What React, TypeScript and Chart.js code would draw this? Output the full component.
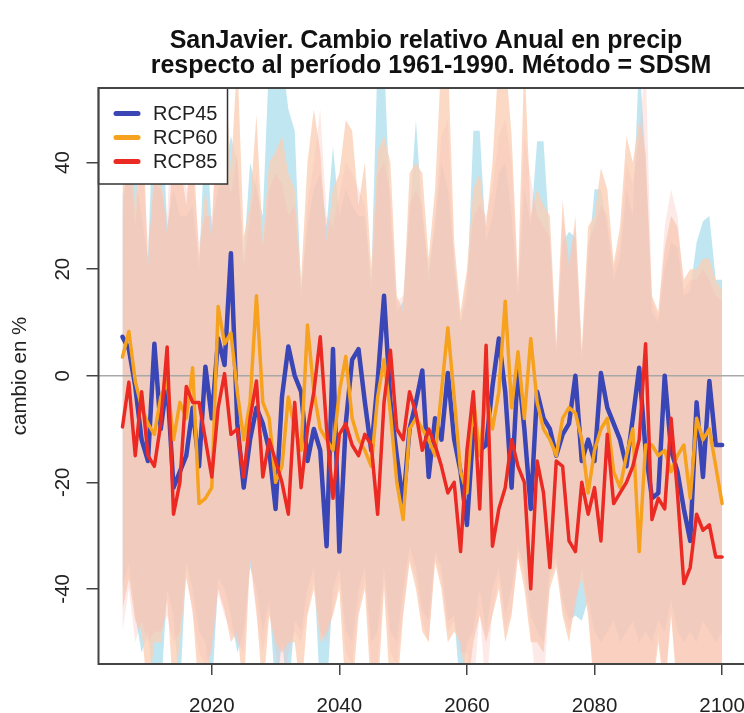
import React, { useEffect, useRef } from "react";
import { Chart, registerables } from "chart.js";

Chart.register(...registerables);

const TITLE_LINES = [
  "SanJavier. Cambio relativo Anual en precip",
  "respecto al período 1961-1990. Método = SDSM",
];
const Y_TITLE = "cambio en %";
const SERIES_NAMES = ["RCP45", "RCP60", "RCP85"];
const X_TICKS = [2020, 2040, 2060, 2080, 2100];
const Y_TICKS = [-40, -20, 0, 20, 40];

const YEARS = [
  2006, 2007, 2008, 2009, 2010, 2011, 2012, 2013, 2014, 2015, 2016, 2017, 2018, 2019, 2020,
  2021, 2022, 2023, 2024, 2025, 2026, 2027, 2028, 2029, 2030, 2031, 2032, 2033, 2034, 2035,
  2036, 2037, 2038, 2039, 2040, 2041, 2042, 2043, 2044, 2045, 2046, 2047, 2048, 2049, 2050,
  2051, 2052, 2053, 2054, 2055, 2056, 2057, 2058, 2059, 2060, 2061, 2062, 2063, 2064, 2065,
  2066, 2067, 2068, 2069, 2070, 2071, 2072, 2073, 2074, 2075, 2076, 2077, 2078, 2079, 2080,
  2081, 2082, 2083, 2084, 2085, 2086, 2087, 2088, 2089, 2090, 2091, 2092, 2093, 2094, 2095,
  2096, 2097, 2098, 2099, 2100,
];

const RCP45 = [
  7.3, 5, -2, -12, -16, 6, -10, -1, -21, -18, -15, -6, -17, 1.7, -8,
  7, 2, 23, -9, -21, -12, -6, -9, -14, -25, -4, 5.5, 0, -3, -16,
  -10, -14, -32, 5, -33, -9, 3, 5, -5, -14, -1, 15, -5, -15, -24,
  -10, -5, 1, -19, -8, -12, 0.5, -12, -18, -28, -10, -14, -13, -2, 7,
  -3, -21, 2, -10, -25, -3, -8, -10, -15, -11, -9, 0, -16, -12, -16,
  0.5, -6, -9, -12, -17, -8, 1.5, -14, -23, -22, 0, -14, -18, -25, -31,
  -5, -19, -1, -13, -13,
];

const RCP60 = [
  3.5, 8.3, -1, -6, -9, -11, -4, -1, -12, -5, -8, 1.5, -24, -23, -21,
  13, 6, 8, -3, -12, -5, 15, -5, -8, -20, -17, -4, -10, -14, 9.5,
  -3, -10, -12, -14, -3, 3.6, -8, -12, -14, -17, -4, 3, -7, -20, -27,
  -10, -8, -10, -12, -15, -3, 9, -4, -18, -22, -4, -15, -3, -10, -3,
  14, -6, 4.5, -8, 7, -5, -10, -12, -15, -8, -6, -7, -12, -22, -14,
  -10, -8, -18, -21, -15, -10, -33, -13, -13, -15, -14, -18, -15, -13, -23,
  -8, -12, -10, -17, -24,
];

const RCP85 = [
  -9.6, -1.2, -15, -3, -15, -17, -9, 5.4, -26, -20, -2, -5, -5, -12, -19,
  -6, 0.4, -11, -10, -19, -8, -1, -19, -12, -16, -20, -26, -5, -21, -10,
  -3, 7.3, -10, -23, -11, -9, -13, -15, -11, -13, -26, -5, 4.8, -10, -12,
  -3, -7, -14, -10, -13, -17, -22, -20, -33, -14, -3, -25, 5.7, -32, -25,
  -21, -12, -17, -20, -40, -16, -22, -36, -16, -17, -31, -33, -20, -26, -21,
  -31, -11, -24, -22, -20, -17, -12, 6, -27, -23, -25, -8, -22, -39, -36,
  -26, -29, -28, -34, -34,
];

const RCP45_HIGH = [
  34, 38, 38, 30, 22, 55, 55, 28, 35, 30, 30, 32, 20, 48, 28,
  35, 38, 45, 40, 22, 40, 35, 30, 60, 60, 60, 50, 46, 16, 28,
  35, 38, 28, 43, 30, 35, 32, 30, 30, 18, 60, 60, 30, 12, 14,
  30, 48, 30, 20, 28, 40, 35, 22, 10, 15, 46, 46, 25, 30, 38,
  40, 30, 15, 35, 28, 44, 44, 25, 4, 25, 27, 26, 3, 22, 35,
  35, 28, 18, 22, 35, 30, 60, 40, 12, 10, 20, 25, 24, 15, 16,
  25, 29, 30, 18, 18,
];
const RCP45_LOW = [
  -40, -35, -45, -52, -48, -60, -60, -40, -45, -60, -35, -40, -48, -50, -60,
  -38, -40, -45, -52, -48, -36, -40, -48, -42, -60, -50, -60, -46, -48, -40,
  -36, -60, -60, -40, -36, -48, -50, -40, -36, -50, -48, -36, -48, -50, -40,
  -32, -36, -44, -46, -33, -36, -46, -45, -60, -50, -48, -40, -48, -40, -36,
  -45, -40, -32, -36, -45, -48, -50, -36, -34, -42, -46, -45, -46, -42, -48,
  -50, -48, -46, -50, -48, -46, -50, -48, -50, -46, -48, -42, -48, -50, -48,
  -50, -46, -48, -50, -48,
];
const RCP60_HIGH = [
  36, 58, 30, 55, 20, 40, 38, 26, 42, 40, 32, 45, 22, 35, 25,
  60, 60, 38, 60, 26, 32, 49, 25, 40, 42, 45, 38, 35, 18, 40,
  50, 42, 25, 35, 38, 48, 46, 32, 40, 20, 42, 45, 40, 15, 12,
  38, 40, 38, 22, 35, 60, 60, 25, 12, 20, 35, 38, 28, 40, 60,
  60, 45, 18, 60, 30, 35, 32, 30, 6, 33, 20, 30, 5, 28, 30,
  39, 35, 21, 28, 45, 40, 48, 42, 15, 12, 24, 30, 28, 18, 20,
  20, 22, 22, 18, 16,
];
const RCP60_LOW = [
  -44, -38, -46, -48, -60, -50, -50, -42, -60, -50, -38, -44, -60, -60, -50,
  -40, -44, -50, -48, -60, -34, -44, -60, -45, -50, -52, -50, -50, -60, -45,
  -40, -50, -48, -45, -40, -60, -60, -45, -40, -60, -60, -40, -60, -60, -45,
  -35, -40, -48, -50, -35, -40, -50, -48, -50, -60, -50, -45, -50, -45, -40,
  -50, -45, -34, -40, -50, -50, -52, -40, -36, -45, -50, -42, -38, -45, -60,
  -60, -60, -60, -60, -60, -60, -60, -58, -60, -50, -60, -45, -60, -60, -60,
  -60, -60, -60, -60, -60,
];
const RCP85_HIGH = [
  30, 45, 28, 42, 25, 36, 35, 30, 55, 55, 35, 38, 25, 30, 30,
  45, 40, 34, 42, 20, 30, 38, 24, 35, 38, 36, 30, 32, 15, 32,
  40, 50, 30, 28, 34, 40, 38, 35, 32, 16, 38, 40, 34, 14, 15,
  32, 35, 32, 18, 30, 45, 48, 20, 10, 18, 30, 32, 30, 35, 45,
  48, 40, 16, 45, 37, 30, 28, 26, 5, 30, 22, 28, 4, 25, 28,
  32, 30, 20, 25, 40, 36, 45, 60, 14, 11, 28, 35, 30, 16, 18,
  18, 20, 18, 15, 14,
];
const RCP85_LOW = [
  -48, -40, -50, -46, -50, -48, -48, -45, -50, -48, -36, -45, -52, -54, -52,
  -41, -45, -48, -50, -52, -35, -45, -52, -44, -52, -60, -52, -48, -50, -44,
  -38, -48, -50, -44, -38, -52, -54, -44, -38, -54, -54, -38, -52, -54, -44,
  -34, -38, -46, -50, -34, -38, -48, -46, -52, -52, -60, -44, -60, -44, -38,
  -48, -44, -33, -38, -48, -60, -60, -38, -35, -44, -48, -44, -36, -44, -58,
  -58, -58, -58, -58, -58, -58, -58, -60, -58, -48, -58, -44, -58, -58, -58,
  -58, -58, -58, -58, -58,
];

const X_MIN = 2002.24;
const X_MAX = 2103.43;
const Y_MIN = -54.1;
const Y_MAX = 54.0;

const FONT = "'Liberation Sans', Arial, Helvetica, sans-serif";
const COLORS = {
  rcp45: "#3A46B6",
  rcp60: "#F7A21E",
  rcp85: "#EC2A24",
  band45: "rgba(165, 220, 236, 0.7)",
  band60: "rgba(250, 208, 182, 0.8)",
  band85: "rgba(248, 186, 178, 0.3)",
};

const pts = (vals: number[]) => YEARS.map((yr, i) => ({ x: yr, y: vals[i] }));

const decorPlugin = {
  id: "decor",
  afterDraw(chart: any) {
    const { ctx, chartArea: a } = chart;
    ctx.save();
    // legend box
    const lx = a.left, ly = a.top, lw = 227.5 - a.left, lh = 184 - a.top;
    ctx.fillStyle = "#ffffff";
    ctx.fillRect(lx, ly, lw, lh);
    ctx.strokeStyle = "#333";
    ctx.lineWidth = 1.5;
    ctx.strokeRect(lx, ly, lw, lh);
    const rows = [113.5, 137.5, 161.5];
    const cols = [COLORS.rcp45, COLORS.rcp60, COLORS.rcp85];
    ctx.lineCap = "round";
    SERIES_NAMES.forEach((name, i) => {
      ctx.strokeStyle = cols[i];
      ctx.lineWidth = 5;
      ctx.beginPath();
      ctx.moveTo(116, rows[i]);
      ctx.lineTo(138, rows[i]);
      ctx.stroke();
      ctx.fillStyle = "#222";
      ctx.font = `20px ${FONT}`;
      ctx.textAlign = "left";
      ctx.textBaseline = "middle";
      ctx.fillText(name, 153, rows[i] + 1);
    });
    // frame (right side lies beyond the picture)
    ctx.strokeStyle = "#444";
    ctx.lineWidth = 2;
    ctx.lineCap = "butt";
    ctx.beginPath();
    ctx.moveTo(a.right + 4, a.top);
    ctx.lineTo(a.left, a.top);
    ctx.lineTo(a.left, a.bottom);
    ctx.lineTo(a.right + 4, a.bottom);
    ctx.stroke();
    // title
    ctx.fillStyle = "#111";
    ctx.font = `bold 25px ${FONT}`;
    ctx.textAlign = "center";
    ctx.textBaseline = "middle";
    ctx.fillText(TITLE_LINES[0], 426, 41);
    ctx.fillText(TITLE_LINES[1], 431, 66);
    ctx.restore();
  },
};

export default function App() {
  const ref = useRef<HTMLCanvasElement | null>(null);
  useEffect(() => {
    if (!ref.current) return;
    const lineDs = (label: string, vals: number[], color: string, w: number) => ({
      label,
      data: pts(vals),
      borderColor: color,
      backgroundColor: color,
      borderWidth: w,
      pointRadius: 0,
      fill: false,
      tension: 0,
      borderJoinStyle: "round" as const,
      borderCapStyle: "round" as const,
    });
    const bandDs = (label: string, vals: number[], color: string, fill: any) => ({
      label,
      data: pts(vals),
      borderColor: "rgba(0,0,0,0)",
      backgroundColor: color,
      borderWidth: 0,
      pointRadius: 0,
      fill,
      tension: 0,
    });
    const chart = new Chart(ref.current, {
      type: "line",
      data: {
        datasets: [
          lineDs("RCP85", RCP85, COLORS.rcp85, 3.5),
          lineDs("RCP60", RCP60, COLORS.rcp60, 3.5),
          lineDs("RCP45", RCP45, COLORS.rcp45, 4.5),
          {
            label: "zero",
            data: [
              { x: X_MIN, y: 0 },
              { x: X_MAX, y: 0 },
            ],
            borderColor: "#A8A8A8",
            borderWidth: 1.5,
            pointRadius: 0,
            fill: false,
          },
          bandDs("RCP85 max", RCP85_HIGH, COLORS.band85, "+1"),
          bandDs("RCP85 min", RCP85_LOW, COLORS.band85, false),
          bandDs("RCP60 max", RCP60_HIGH, COLORS.band60, "+1"),
          bandDs("RCP60 min", RCP60_LOW, COLORS.band60, false),
          bandDs("RCP45 max", RCP45_HIGH, COLORS.band45, "+1"),
          bandDs("RCP45 min", RCP45_LOW, COLORS.band45, false),
        ] as any,
      },
      options: {
        responsive: false,
        animation: false,
        devicePixelRatio: 1,
        layout: { padding: { top: 88, left: 0, right: 0, bottom: 0 } },
        plugins: {
          legend: { display: false },
          title: { display: false },
          tooltip: { enabled: false },
        },
        scales: {
          x: {
            type: "linear",
            min: X_MIN,
            max: X_MAX,
            afterBuildTicks: (s: any) => {
              s.ticks = X_TICKS.map((v) => ({ value: v }));
            },
            afterFit: (s: any) => {
              s.height = 713 - 664;
              s.paddingLeft = 0;
              s.paddingRight = 0;
            },
            ticks: {
              callback: (v: any) => String(v),
              font: { size: 20.5, family: FONT },
              color: "#222",
              padding: 19,
              maxRotation: 0,
              minRotation: 0,
              autoSkip: false,
            },
            grid: {
              drawOnChartArea: false,
              drawTicks: true,
              tickLength: 11,
              color: "#444",
              lineWidth: 1.5,
            },
            border: { display: false },
          },
          y: {
            type: "linear",
            min: Y_MIN,
            max: Y_MAX,
            afterBuildTicks: (s: any) => {
              s.ticks = Y_TICKS.map((v) => ({ value: v }));
            },
            afterFit: (s: any) => {
              s.width = 98.5;
              s.paddingTop = 0;
              s.paddingBottom = 0;
            },
            ticks: {
              callback: (v: any) => String(v),
              font: { size: 20.5, family: FONT },
              color: "#222",
              padding: 8,
              minRotation: 90,
              maxRotation: 90,
              crossAlign: "center",
              autoSkip: false,
            },
            grid: {
              drawOnChartArea: false,
              drawTicks: true,
              tickLength: 12,
              color: "#444",
              lineWidth: 1.5,
            },
            border: { display: false },
            title: {
              display: true,
              text: Y_TITLE,
              font: { size: 20.5, family: FONT },
              color: "#222",
              padding: { top: 8, bottom: 0 },
            },
          },
        },
      } as any,
      plugins: [decorPlugin],
    });
    return () => chart.destroy();
  }, []);
  return (
    <div style={{ position: "absolute", left: 0, top: 0, width: 744, height: 713, background: "#fff" }}>
      <canvas ref={ref} width={744} height={713} style={{ display: "block", width: 744, height: 713 }} />
    </div>
  );
}
